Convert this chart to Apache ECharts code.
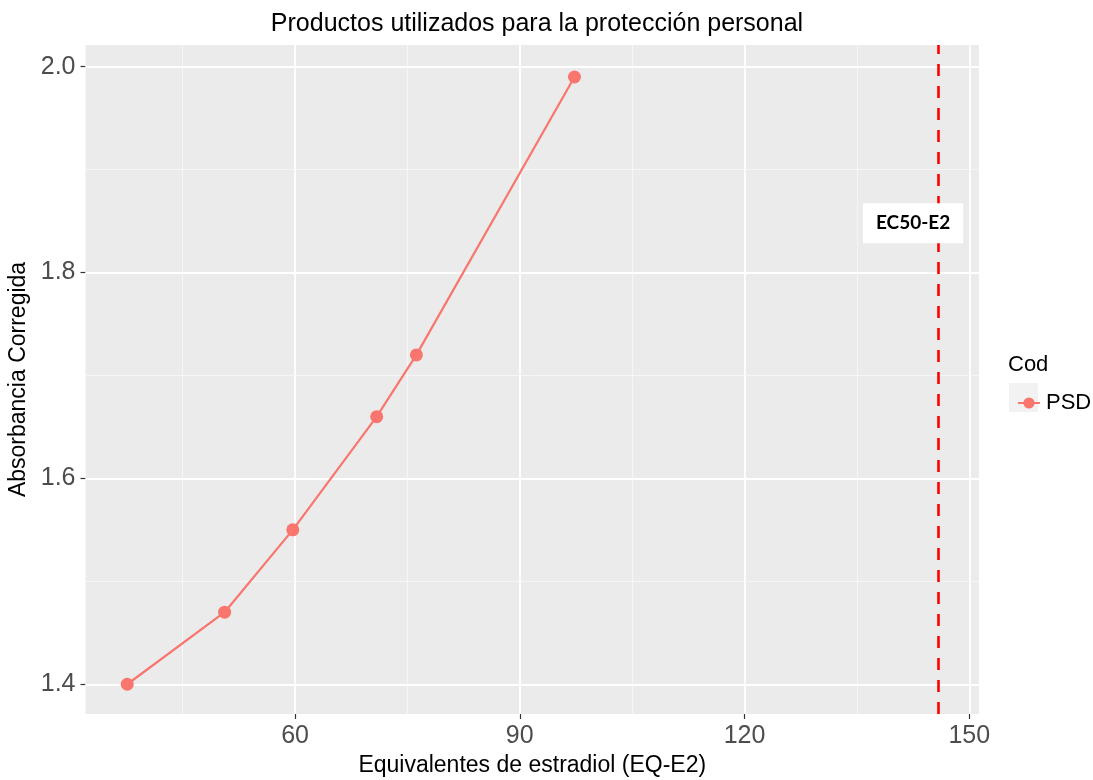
<!DOCTYPE html>
<html>
<head>
<meta charset="utf-8">
<script src="https://cdn.jsdelivr.net/npm/echarts@6/dist/echarts.min.js"></script>
<style>
  html, body { margin: 0; padding: 0; background: #fff; }
  #chart { width: 1093px; height: 780px; }
</style>
</head>
<body>
<div id="chart"></div>
<script>
// Dose-response points for the PSD sample
const eqE2 = [37.6, 50.6, 59.7, 70.9, 76.2, 97.3];
const absorbance = [1.40, 1.47, 1.55, 1.66, 1.72, 1.99];

// Axis ranges and tick values
const xRange = [32.03, 151.3];
const yRange = [1.3711, 2.0211];
const xMajor = [60, 90, 120, 150];
const xMinor = [45, 75, 105, 135];
const yMajor = [1.4, 1.6, 1.8, 2.0];
const yMinor = [1.5, 1.7, 1.9];

// Reference concentration (EC50 of estradiol) and its label
const ec50 = 145.86;
const ec50Label = 'EC50-E2';
const ec50LabelPos = [142.5, 1.848];

const seriesName = 'PSD';
const legendTitle = 'Cod';
const pointColor = '#F8766D';
const font = 'Liberation Sans, Arial, sans-serif';

const chart = echarts.init(document.getElementById('chart'), null, { renderer: 'canvas' });

const gridLines = [];
xMajor.forEach(v => gridLines.push({ xAxis: v, lineStyle: { color: '#ffffff', width: 1.8, type: 'solid' } }));
xMinor.forEach(v => gridLines.push({ xAxis: v, lineStyle: { color: '#f7f7f7', width: 0.9, type: 'solid' } }));
yMajor.forEach(v => gridLines.push({ yAxis: v, lineStyle: { color: '#ffffff', width: 1.8, type: 'solid' } }));
yMinor.forEach(v => gridLines.push({ yAxis: v, lineStyle: { color: '#f7f7f7', width: 0.9, type: 'solid' } }));

const option = {
  animation: false,
  backgroundColor: '#ffffff',
  title: {
    text: 'Productos utilizados para la protección personal',
    left: 532,
    textAlign: 'center',
    top: 7,
    textStyle: { fontFamily: font, fontSize: 25, fontWeight: 'normal', color: '#000' }
  },
  grid: {
    left: 85.5, right: 114, top: 45, bottom: 66,
    outerBoundsMode: 'none',
    containLabel: false,
    show: true, backgroundColor: '#ebebeb', borderWidth: 0
  },
  legend: {
    data: [{ name: seriesName }],
    left: 1012, top: 387,
    orient: 'vertical',
    itemWidth: 22, itemHeight: 14,
    itemGap: 0,
    textStyle: { fontFamily: font, fontSize: 22, color: '#000', padding: [0, 0, 0, 1] },
    selectedMode: false
  },
  graphic: [
    {
      type: 'rect', left: 1009, top: 383, z: -1, silent: true,
      shape: { width: 29, height: 29 }, style: { fill: '#f2f2f2' }
    },
    {
      type: 'text', left: 1008, top: 354,
      style: { text: legendTitle, fontFamily: font, fontSize: 22, fill: '#000' }
    }
  ],
  xAxis: {
    type: 'value',
    min: xRange[0], max: xRange[1],
    name: 'Equivalentes de estradiol (EQ-E2)',
    nameLocation: 'middle',
    nameGap: 40,
    nameTextStyle: { fontFamily: font, fontSize: 23, color: '#000' },
    axisLine: { show: false },
    axisTick: { show: true, customValues: xMajor, length: 5, lineStyle: { color: '#333', width: 1.2 } },
    axisLabel: { customValues: xMajor, margin: 10, fontFamily: font, fontSize: 25, color: '#4d4d4d' },
    splitLine: { show: false }
  },
  yAxis: {
    type: 'value',
    min: yRange[0], max: yRange[1],
    name: 'Absorbancia Corregida',
    nameLocation: 'middle',
    nameGap: 47,
    nameRotate: 90,
    nameTextStyle: { fontFamily: font, fontSize: 23, color: '#000' },
    axisLine: { show: false },
    axisTick: { show: true, customValues: yMajor, length: 5, lineStyle: { color: '#333', width: 1.2 } },
    axisLabel: {
      customValues: yMajor, margin: 10,
      formatter: v => v.toFixed(1),
      fontFamily: font, fontSize: 25, color: '#4d4d4d'
    },
    splitLine: { show: false }
  },
  series: [
    {
      // panel grid lines and the EC50 reference line
      type: 'line',
      name: '_grid',
      data: [],
      silent: true,
      z: 1,
      markLine: {
        z: 1,
        silent: true,
        symbol: ['none', 'none'],
        label: { show: false },
        animation: false,
        data: gridLines.concat([
          { xAxis: ec50, lineStyle: { color: '#ff0000', width: 2.6, type: [12, 10] } }
        ])
      }
    },
    {
      name: seriesName,
      type: 'line',
      z: 3,
      data: eqE2.map((x, i) => [x, absorbance[i]]),
      symbol: 'circle',
      symbolSize: 13,
      itemStyle: { color: pointColor },
      lineStyle: { color: pointColor, width: 2.2 }
    },
    {
      // boxed text label beside the reference line
      type: 'scatter',
      name: '_label',
      silent: true,
      z: 10,
      symbolSize: 0,
      itemStyle: { opacity: 1 },
      data: [ec50LabelPos],
      label: {
        show: true,
        position: 'inside',
        formatter: ec50Label,
        backgroundColor: '#ffffff',
        padding: [11, 13, 10, 13],
        fontFamily: 'Lato, Open Sans, sans-serif',
        fontWeight: 'bold',
        fontSize: 19,
        color: '#000'
      }
    }
  ]
};

chart.setOption(option);
</script>
</body>
</html>
